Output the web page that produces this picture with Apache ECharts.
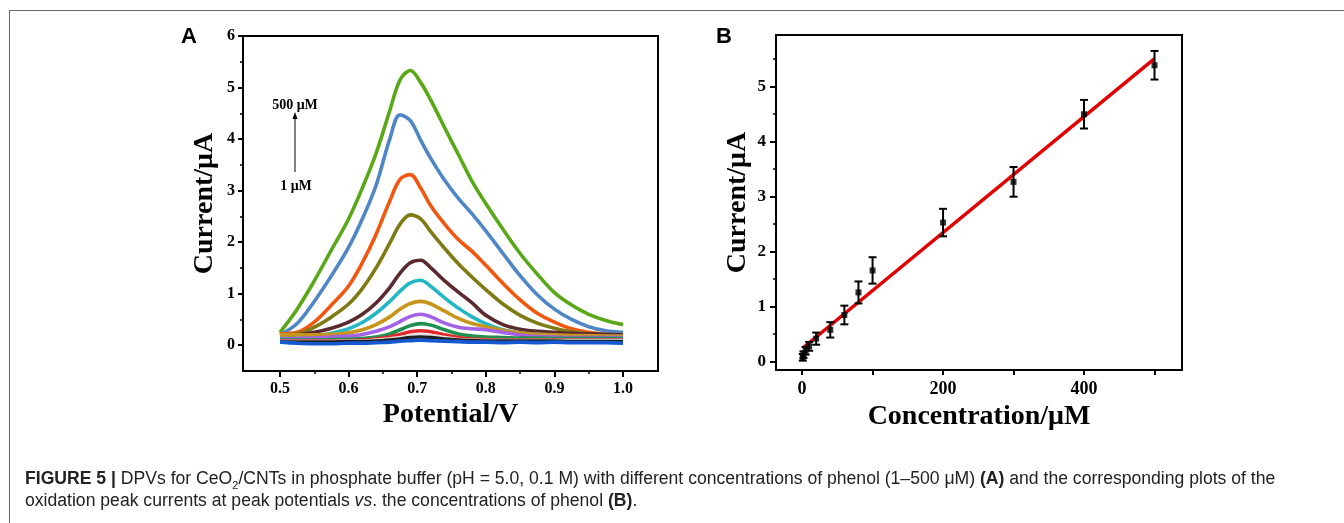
<!DOCTYPE html>
<html>
<head>
<meta charset="utf-8">
<script src="https://cdn.jsdelivr.net/npm/echarts@6/dist/echarts.min.js"></script>
<style>
html,body{margin:0;padding:0;background:#fff;}
#wrap{position:relative;width:1344px;height:523px;overflow:hidden;}
#chart{position:absolute;left:0;top:0;width:1344px;height:523px;}
#box{position:absolute;left:9px;top:10px;width:1400px;height:600px;border-left:1.5px solid #6a6a6a;border-top:1.5px solid #6a6a6a;}
#cap{position:absolute;left:25px;top:467px;font-family:"Liberation Sans",Arial,sans-serif;font-size:17.6px;line-height:22px;color:#222;white-space:nowrap;}
#cap sub{font-size:11px;line-height:0;}
</style>
</head>
<body>
<div id="wrap">
<div id="box"></div>
<div id="chart"></div>
<div id="cap"><b>FIGURE 5 |</b> DPVs for CeO<sub>2</sub>/CNTs in phosphate buffer (pH = 5.0, 0.1 M) with different concentrations of phenol (1–500 μM) <b>(A)</b> and the corresponding plots of the<br>oxidation peak currents at peak potentials <i>vs</i>. the concentrations of phenol <b>(B)</b>.</div>
</div>
<script>
// ---------- Panel A: DPV curves ----------
const potentials = [0.50,0.525,0.55,0.575,0.60,0.62,0.64,0.66,0.675,0.69,0.705,0.72,0.74,0.76,0.78,0.80,0.825,0.85,0.875,0.90,0.925,0.95,0.975,1.00];
const curveLabels = ['500 μM','400 μM','300 μM','200 μM','100 μM','80 μM','60 μM','40 μM','20 μM','10 μM','5 μM','2 μM','1 μM'];
const curveColors = ['#58a818','#4f86c6','#f2570f','#7e7b14','#5b2a2f','#23b7c6','#c8951c','#a463e6','#1f9050','#e3262a','#e2e2e2','#1e1e1e','#1658cf'];
const c500 = [0.25,0.70,1.25,1.85,2.45,3.05,3.72,4.55,5.15,5.33,5.10,4.75,4.22,3.70,3.18,2.75,2.25,1.78,1.38,1.02,0.78,0.60,0.48,0.40];
const c400 = [0.20,0.42,0.85,1.35,1.90,2.45,3.10,4.00,4.47,4.36,3.98,3.62,3.20,2.85,2.55,2.22,1.78,1.35,0.98,0.70,0.50,0.36,0.28,0.25];
const c300 = [0.22,0.25,0.45,0.78,1.15,1.60,2.15,2.80,3.22,3.31,3.05,2.70,2.35,2.05,1.82,1.55,1.20,0.88,0.62,0.45,0.32,0.25,0.21,0.18];
const c200 = [0.20,0.22,0.35,0.55,0.80,1.10,1.50,1.98,2.35,2.53,2.45,2.20,1.88,1.58,1.32,1.08,0.80,0.58,0.43,0.33,0.26,0.22,0.20,0.18];
const c100 = [0.18,0.20,0.25,0.33,0.45,0.60,0.82,1.12,1.40,1.60,1.65,1.50,1.25,1.03,0.82,0.58,0.40,0.31,0.27,0.25,0.23,0.22,0.21,0.20];
const c80  = [0.15,0.16,0.18,0.23,0.32,0.44,0.62,0.85,1.05,1.21,1.26,1.14,0.92,0.72,0.55,0.42,0.30,0.24,0.21,0.19,0.18,0.17,0.17,0.16];
const c60  = [0.20,0.20,0.20,0.21,0.24,0.30,0.40,0.55,0.70,0.81,0.85,0.80,0.66,0.52,0.42,0.36,0.29,0.24,0.21,0.20,0.19,0.19,0.18,0.18];
const c40  = [0.12,0.13,0.14,0.16,0.18,0.21,0.27,0.36,0.46,0.56,0.60,0.55,0.43,0.35,0.32,0.30,0.25,0.20,0.17,0.16,0.15,0.15,0.15,0.15];
const c20  = [0.10,0.10,0.10,0.11,0.12,0.13,0.16,0.22,0.30,0.38,0.42,0.39,0.30,0.22,0.18,0.16,0.15,0.14,0.14,0.13,0.13,0.13,0.13,0.13];
const c10  = [0.08,0.08,0.08,0.08,0.09,0.10,0.12,0.16,0.21,0.26,0.28,0.26,0.20,0.15,0.12,0.11,0.10,0.10,0.10,0.10,0.10,0.10,0.10,0.10];
const c5   = [0.07,0.07,0.07,0.07,0.08,0.08,0.10,0.12,0.15,0.18,0.20,0.19,0.15,0.11,0.10,0.09,0.09,0.09,0.09,0.09,0.09,0.09,0.09,0.09];
const c2   = [0.06,0.06,0.06,0.06,0.07,0.07,0.08,0.10,0.12,0.15,0.16,0.15,0.12,0.10,0.09,0.08,0.08,0.08,0.08,0.08,0.07,0.07,0.07,0.07];
const c1   = [0.06,0.04,0.03,0.03,0.04,0.04,0.05,0.06,0.08,0.09,0.10,0.09,0.08,0.07,0.06,0.06,0.05,0.06,0.05,0.06,0.05,0.05,0.05,0.04];
const curves = [c500,c400,c300,c200,c100,c80,c60,c40,c20,c10,c5,c2,c1];

const aXTicks = [0.5,0.6,0.7,0.8,0.9,1.0];
const aXMinor = [0.55,0.65,0.75,0.85,0.95];
const aYTicks = [0,1,2,3,4,5,6];
const aYMinor = [0.5,1.5,2.5,3.5,4.5,5.5];

// ---------- Panel B: calibration ----------
const concentrations = [1,2,5,10,20,40,60,80,100,200,300,400,500];
const peakCurrents   = [0.08,0.13,0.20,0.28,0.42,0.58,0.85,1.26,1.66,2.53,3.27,4.50,5.39];
const peakErrors     = [0.06,0.06,0.07,0.08,0.11,0.14,0.17,0.20,0.24,0.25,0.27,0.26,0.26];
const fitX = [1,500];
const fitY = [0.25,5.51];
const bXTicks = [0,100,200,300,400,500];
const bXLabels = [0,200,400];
const bYTicks = [0,1,2,3,4,5];
const bYMinor = [0.5,1.5,2.5,3.5,4.5,5.5];

const serif = '"Liberation Serif","Times New Roman",serif';
const sans = '"Liberation Sans",Arial,sans-serif';
const blackLine = {show:true, onZero:false, lineStyle:{color:'#000', width:2}};
const noLine = {show:false, onZero:false};

function axis(extra){
  return Object.assign({type:'value', splitLine:{show:false}, axisLine:blackLine}, extra);
}

const chart = echarts.init(document.getElementById('chart'), null, {renderer:'canvas'});

const series = [];
curves.forEach((c, i) => {
  series.push({
    type:'line', name:curveLabels[i], xAxisIndex:0, yAxisIndex:0,
    data: potentials.map((p, k) => [p, c[k]]),
    smooth:0.35, symbol:'none', silent:true,
    lineStyle:{color:curveColors[i], width:3.6},
    z: 2 + i
  });
});
series.push({
  type:'line', name:'fit', xAxisIndex:2, yAxisIndex:2,
  data: fitX.map((x, k) => [x, fitY[k]]),
  symbol:'none', lineStyle:{color:'#e00000', width:3.5}, z:5
});
series.push({
  type:'custom', name:'errors', xAxisIndex:2, yAxisIndex:2,
  data: concentrations.map((c, k) => [c, peakCurrents[k], peakErrors[k]]),
  renderItem: function(params, api){
    const x = api.value(0), y = api.value(1), e = api.value(2);
    const hi = api.coord([x, y + e]);
    const lo = api.coord([x, y - e]);
    const w = 4;
    const st = {stroke:'#000', lineWidth:2};
    return {type:'group', children:[
      {type:'line', shape:{x1:hi[0], y1:hi[1], x2:lo[0], y2:lo[1]}, style:st},
      {type:'line', shape:{x1:hi[0]-w, y1:hi[1], x2:hi[0]+w, y2:hi[1]}, style:st},
      {type:'line', shape:{x1:lo[0]-w, y1:lo[1], x2:lo[0]+w, y2:lo[1]}, style:st}
    ]};
  }, z:6
});
series.push({
  type:'scatter', name:'peaks', xAxisIndex:2, yAxisIndex:2,
  data: concentrations.map((c, k) => [c, peakCurrents[k]]),
  symbol:'rect', symbolSize:6, itemStyle:{color:'#000'}, z:7
});

const titleStyle = {color:'#000', fontFamily:serif, fontWeight:'bold', fontSize:28};

const option = {
  animation:false,
  backgroundColor:'transparent',
  grid:[
    {left:243, top:36, width:415, height:335, show:true, borderColor:'#000', borderWidth:2, backgroundColor:'transparent'},
    {left:776, top:35, width:406, height:335, show:true, borderColor:'#000', borderWidth:2, backgroundColor:'transparent'}
  ],
  xAxis:[
    axis({gridIndex:0, position:'bottom', min:0.4461, max:1.051,
      axisTick:{show:true, inside:false, length:6, lineStyle:{color:'#000', width:2}, customValues:aXTicks},
      axisLabel:{customValues:aXTicks, formatter:v=>v.toFixed(1), color:'#000', fontFamily:serif, fontWeight:'bold', fontSize:16, margin:10},
      name:'Potential/V', nameLocation:'middle', nameGap:30, nameMoveOverlap:false, nameTextStyle:titleStyle}),
    axis({gridIndex:0, position:'bottom', min:0.4461, max:1.051, axisLine:noLine,
      axisTick:{show:true, inside:false, length:3, lineStyle:{color:'#000', width:1.5}, customValues:aXMinor},
      axisLabel:{show:false}}),
    axis({gridIndex:1, position:'bottom', min:-37, max:539,
      axisTick:{show:true, inside:false, length:5, lineStyle:{color:'#000', width:2}, customValues:bXTicks},
      axisLabel:{customValues:bXLabels, color:'#000', fontFamily:serif, fontWeight:'bold', fontSize:18, margin:10},
      name:'Concentration/μM', nameLocation:'middle', nameGap:33, nameMoveOverlap:false, nameTextStyle:titleStyle})
  ],
  yAxis:[
    axis({gridIndex:0, position:'left', min:-0.5, max:6,
      axisTick:{show:true, inside:false, length:5, lineStyle:{color:'#000', width:2}, customValues:aYTicks},
      axisLabel:{customValues:aYTicks, color:'#000', fontFamily:serif, fontWeight:'bold', fontSize:16, margin:8},
      name:'Current/μA', nameLocation:'middle', nameGap:24, nameMoveOverlap:false, nameTextStyle:titleStyle}),
    axis({gridIndex:0, position:'left', min:-0.5, max:6, axisLine:noLine,
      axisTick:{show:true, inside:false, length:3, lineStyle:{color:'#000', width:1.5}, customValues:aYMinor},
      axisLabel:{show:false}}),
    axis({gridIndex:1, position:'left', min:-0.15, max:5.94,
      axisTick:{show:true, inside:false, length:6, lineStyle:{color:'#000', width:2}, customValues:bYTicks},
      axisLabel:{customValues:bYTicks, color:'#000', fontFamily:serif, fontWeight:'bold', fontSize:17, margin:10},
      name:'Current/μA', nameLocation:'middle', nameGap:24, nameMoveOverlap:false, nameTextStyle:titleStyle}),
    axis({gridIndex:1, position:'left', min:-0.15, max:5.94, axisLine:noLine,
      axisTick:{show:true, inside:false, length:3, lineStyle:{color:'#000', width:1.5}, customValues:bYMinor},
      axisLabel:{show:false}})
  ],
  graphic:[
    {type:'text', left:181, top:26, style:{text:'A', font:'bold 22px '+sans, fill:'#000'}},
    {type:'text', left:716, top:26, style:{text:'B', font:'bold 22px '+sans, fill:'#000'}},
    {type:'text', x:295, y:105, style:{text:'500 μM', font:'bold 14px '+serif, fill:'#000', align:'center', verticalAlign:'middle'}},
    {type:'text', x:296, y:186, style:{text:'1 μM', font:'bold 14px '+serif, fill:'#000', align:'center', verticalAlign:'middle'}},
    {type:'line', shape:{x1:295, y1:172, x2:295, y2:118}, style:{stroke:'#000', lineWidth:1}},
    {type:'polygon', shape:{points:[[295,112],[292.5,119],[297.5,119]]}, style:{fill:'#000'}}
  ],
  series: series
};
chart.setOption(option);
</script>
</body>
</html>
